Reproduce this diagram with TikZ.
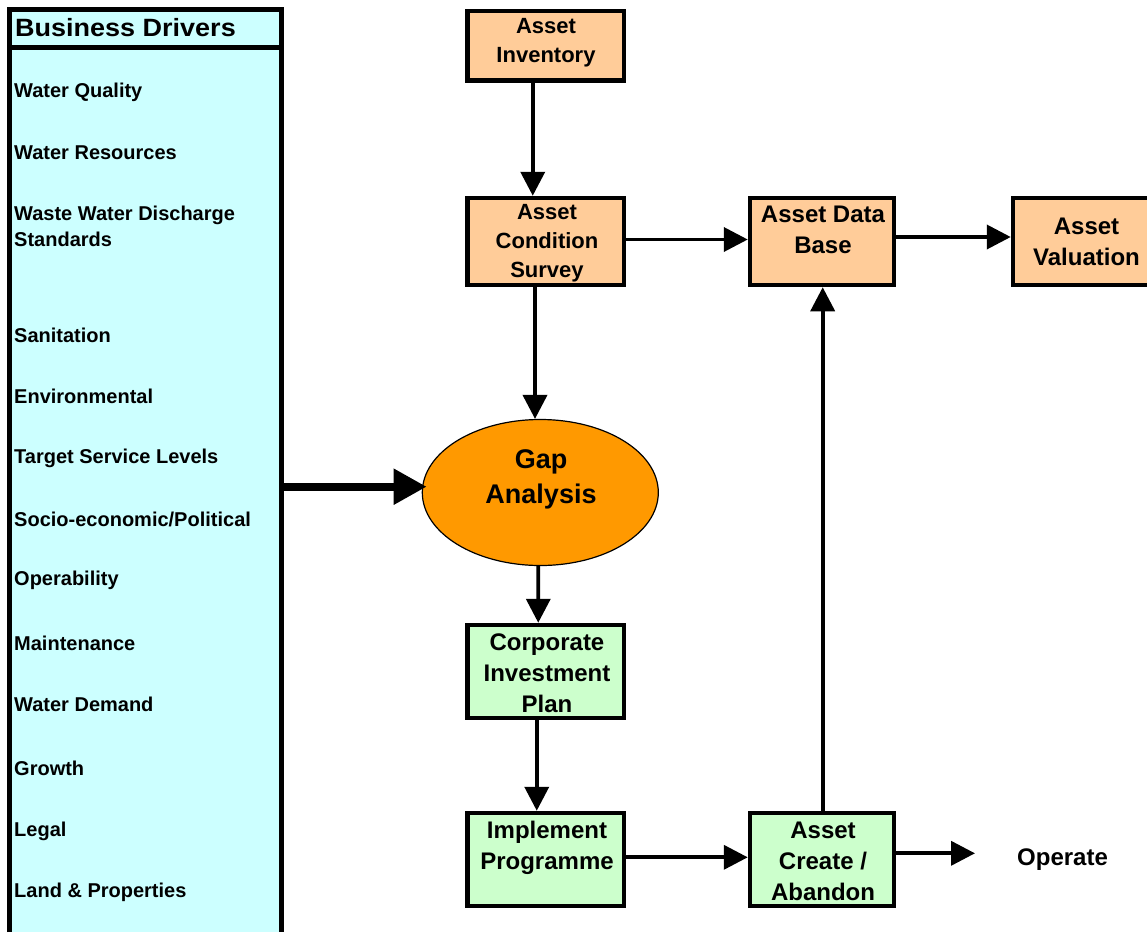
\documentclass[tikz,border=0pt]{standalone}
\usepackage{fontspec}
\usepackage{graphicx}
\setmainfont{Liberation Sans}
\usetikzlibrary{arrows.meta,shapes.geometric}
\definecolor{peach}{HTML}{FFCC99}
\definecolor{mint}{HTML}{CCFFCC}
\definecolor{aqua}{HTML}{CCFFFF}
\definecolor{gold}{HTML}{FF9900}
\begin{document}
\begin{tikzpicture}[x=1pt,y=-1pt,
  box/.style={draw, line width=4.5pt, rectangle, inner sep=0pt},
  peachbox/.style={box, fill=peach},
  mintbox/.style={box, fill=mint},
  lbl/.style={font=\bfseries\fontsize{24}{31}\selectfont, align=center, inner sep=0pt},
  lblsmall/.style={font=\bfseries\fontsize{22}{29}\selectfont, align=center, inner sep=0pt},
  item/.style={font=\bfseries\fontsize{20}{26}\selectfont, anchor=west, inner sep=0pt, align=left},
  conn/.style={line width=3.8pt, -{Triangle[length=24pt,width=24pt]}},
  bigconn/.style={line width=8pt, -{Triangle[length=33pt,width=34pt]}},
]
\useasboundingbox (0,0) rectangle (1147,932);
\fill[white] (0,0) rectangle (1147,932);

% Business drivers panel
\node[fill=aqua, minimum width=271pt, minimum height=922pt, inner sep=0pt] (panel) at (145.5,471) {};
\draw[line width=5pt] (panel.south west) -- (panel.north west) -- (panel.north east) -- (panel.south east);
\draw[line width=5pt] (10,47.5) -- (281,47.5);
\node[anchor=west, inner sep=0pt, font=\bfseries\fontsize{25}{30}\selectfont] (hdr) at (15,28) {\scalebox{1.08}[1]{Business Drivers}};

\node[item] (i1) at (14,92) {Water Quality};
\node[item] (i2) at (14,153) {Water Resources};
\node[item] (i3) at (14,226) {Waste Water Discharge\\Standards};
\node[item] (i4) at (14,335) {Sanitation};
\node[item] (i5) at (14,396) {Environmental};
\node[item] (i6) at (14,458) {Target Service Levels};
\node[item] (i7) at (14,519) {Socio-economic/Political};
\node[item] (i8) at (14,580) {Operability};
\node[item] (i9) at (14,643) {Maintenance};
\node[item] (i10) at (14,704) {Water Demand};
\node[item] (i11) at (14,768) {Growth};
\node[item] (i12) at (14,831) {Legal};
\node[item] (i13) at (14,892) {Land \& Properties};

% Boxes
\node[peachbox, minimum width=156.5pt, minimum height=69.5pt] (inv) at (545.75,45.75) {};
\node[lblsmall] (invt) at (546,43) {Asset\\Inventory};
\node[peachbox, minimum width=156.5pt, minimum height=87pt] (cond) at (545.75,241.5) {};
\node[lblsmall] (condt) at (547,243.5) {Asset\\Condition\\Survey};
\node[peachbox, minimum width=144pt, minimum height=87pt] (db) at (822,241.5) {};
\node[lbl] (dbt) at (823,230) {Asset Data\\Base};
\node[peachbox, minimum width=147pt, minimum height=87pt] (val) at (1086.5,241.5) {};
\node[lbl] (valt) at (1086.5,242) {Asset\\Valuation};

\node[ellipse, draw, line width=1.2pt, fill=gold, minimum width=236pt, minimum height=146pt, inner sep=0pt] (gap) at (540.3,492.5) {};
\node[font=\bfseries\fontsize{27}{35}\selectfont, align=center, inner sep=0pt] (gapt) at (541,479.5) {Gap\\Analysis};

\node[mintbox, minimum width=156.5pt, minimum height=93pt] (corp) at (545.75,671.5) {};
\node[lbl] (corpt) at (547,673.5) {Corporate\\Investment\\Plan};
\node[mintbox, minimum width=156.5pt, minimum height=93pt] (impl) at (545.75,859.5) {};
\node[lbl] (implt) at (547,847.5) {Implement\\Programme};
\node[mintbox, minimum width=144pt, minimum height=93pt] (create) at (822,859.5) {};
\node[lbl] (createt) at (823,861.5) {Asset\\Create /\\Abandon};

\node[anchor=west, inner sep=0pt, font=\bfseries\fontsize{24}{31}\selectfont] (op) at (1017,860) {Operate};
\coordinate (opend) at (975,853.3);

% Connectors
\draw[conn] ([xshift=-13pt]inv.south) -- ([xshift=-13pt]cond.north);
\draw[conn] ([yshift=2pt]cond.east) -- ([yshift=2pt]db.west);
\draw[conn] ([yshift=4.5pt]db.east) -- ([yshift=4.5pt]val.west);
\draw[conn] ([xshift=-10.75pt]cond.south) -- ([xshift=-5.3pt]gap.north);
\draw[bigconn] ([yshift=-15.7pt]panel.east) -- ([xshift=5pt,yshift=5.8pt]gap.west);
\draw[conn] ([xshift=-2pt]gap.south) -- ([xshift=-7.5pt]corp.north);
\draw[conn] ([xshift=-9pt]corp.south) -- ([xshift=-9pt]impl.north);
\draw[conn] ([yshift=2.2pt]impl.east) -- ([yshift=2.2pt]create.west);
\draw[conn] ([xshift=0.7pt]create.north) -- ([xshift=0.7pt]db.south);
\draw[conn] (create.east |- opend) -- (opend);
\end{tikzpicture}
\end{document}
